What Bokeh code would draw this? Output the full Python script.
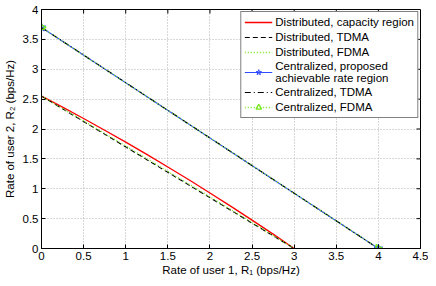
import math
from bokeh.plotting import figure
from bokeh.models import Range1d, FixedTicker, Legend, LegendItem, ColumnDataSource
from bokeh.embed import file_html
from bokeh.resources import INLINE

# ---- data ----
dist_cap_r1 = [0.0, 0.25, 0.5, 0.75, 1.0, 1.25, 1.5, 1.75, 2.0, 2.25, 2.5, 2.75, 3.0]
dist_cap_r2 = [2.55, 2.365, 2.175, 1.98, 1.78, 1.575, 1.365, 1.15, 0.93, 0.705, 0.475, 0.24, 0.0]

dist_tdma_r1 = [0.0, 3.0]
dist_tdma_r2 = [2.55, 0.0]

dist_fdma_r1 = [0.0, 0.5, 1.0, 1.5, 2.0, 2.5, 3.0]
dist_fdma_r2 = [2.55, 2.135, 1.715, 1.29, 0.865, 0.435, 0.0]

cent_prop_r1 = [0.0, 4.0]
cent_prop_r2 = [3.7, 0.0]

cent_tdma_r1 = [0.0, 4.0]
cent_tdma_r2 = [3.7, 0.0]

cent_fdma_r1 = [0.0, 4.0]
cent_fdma_r2 = [3.7, 0.0]

x_ticks = [0, 0.5, 1, 1.5, 2, 2.5, 3, 3.5, 4, 4.5]
x_tick_labels = ["0", "0.5", "1", "1.5", "2", "2.5", "3", "3.5", "4", "4.5"]
y_ticks = [0, 0.5, 1, 1.5, 2, 2.5, 3, 3.5, 4]
y_tick_labels = ["0", "0.5", "1", "1.5", "2", "2.5", "3", "3.5", "4"]

legend_labels = [
    "Distributed, capacity region",
    "Distributed, TDMA",
    "Distributed, FDMA",
    "Centralized, proposed\nachievable rate region",
    "Centralized, TDMA",
    "Centralized, FDMA",
]

FONT = "Liberation Sans"
FS = "11.5px"
GREEN = "#74e81a"
BLUE = "#2f4dff"

x_min, x_max = x_ticks[0], x_ticks[-1]
y_min, y_max = y_ticks[0], y_ticks[-1]

p = figure(width=428, height=278, output_backend="svg", toolbar_location=None,
           x_range=Range1d(x_min, x_max), y_range=Range1d(y_min, y_max),
           min_border_top=9, min_border_right=8, min_border_bottom=29, min_border_left=40)
p.background_fill_color = "white"
p.border_fill_color = "white"
p.outline_line_color = "black"
p.outline_line_width = 1

xax = p.below[0]
yax = p.left[0]
for ax, ticks, labels in ((xax, x_ticks, x_tick_labels), (yax, y_ticks, y_tick_labels)):
    ax.ticker = FixedTicker(ticks=ticks)
    ax.major_label_overrides = {t: l for t, l in zip(ticks, labels)}
    ax.major_label_text_font = FONT
    ax.major_label_text_font_size = FS
    ax.major_label_text_color = "black"
    ax.axis_label_text_font = FONT
    ax.axis_label_text_font_size = FS
    ax.axis_label_text_font_style = "normal"
    ax.axis_label_text_color = "black"
    ax.axis_line_color = "black"
    ax.major_tick_line_color = "black"
    ax.major_tick_in = 4
    ax.major_tick_out = 0
    ax.minor_tick_line_color = None

xax.axis_label = "Rate of user 1, R\u2081 (bps/Hz)"
yax.axis_label = "Rate of user 2, R\u2082 (bps/Hz)"
xax.major_label_standoff = 3
yax.major_label_standoff = 3
xax.axis_label_standoff = 1
yax.axis_label_standoff = 4

p.grid.grid_line_color = "#b0b0b0"
p.grid.grid_line_dash = "1 2"
p.grid.grid_line_width = 1

# mirrored inward tick marks on the top and right edges of the box
p.ray(x=x_ticks[1:-1], y=[y_max] * (len(x_ticks) - 2), length=4, length_units="screen",
      angle=-math.pi / 2, line_color="black", line_width=1)
p.ray(x=[x_max] * (len(y_ticks) - 2), y=y_ticks[1:-1], length=4, length_units="screen",
      angle=math.pi, line_color="black", line_width=1)

r1 = p.line(dist_cap_r1, dist_cap_r2, line_color="#ff0000", line_width=1.3)
r2 = p.line(dist_tdma_r1, dist_tdma_r2, line_color="black", line_width=1.1, line_dash="5 3")
r3 = p.line(dist_fdma_r1, dist_fdma_r2, line_color=GREEN, line_width=1.3, line_dash="1 2")

r4a = p.line(cent_prop_r1, cent_prop_r2, line_color=BLUE, line_width=1.1)
r4b = p.scatter(cent_prop_r1, cent_prop_r2, marker="star", size=9, line_color=BLUE,
                fill_color=BLUE, fill_alpha=0.35, line_width=1)
r5 = p.line(cent_tdma_r1, cent_tdma_r2, line_color="black", line_width=1.1, line_dash="6 3 1 3")
r6a = p.line(cent_fdma_r1, cent_fdma_r2, line_color=GREEN, line_width=1.3, line_dash="1 2")
tri_src = ColumnDataSource(data=dict(x=cent_fdma_r1, y=cent_fdma_r2,
                                     ang=[-math.pi / 2] * len(cent_fdma_r1)))
r6b = p.scatter("x", "y", source=tri_src, marker="triangle", size=8, angle="ang",
                line_color=GREEN, fill_color=None, line_width=1.3)

items = [
    LegendItem(label=legend_labels[0], renderers=[r1]),
    LegendItem(label=legend_labels[1], renderers=[r2]),
    LegendItem(label=legend_labels[2], renderers=[r3]),
    LegendItem(label=legend_labels[3], renderers=[r4a, r4b]),
    LegendItem(label=legend_labels[4], renderers=[r5]),
    LegendItem(label=legend_labels[5], renderers=[r6a, r6b]),
]
legend = Legend(items=items, location="top_right")
legend.margin = 2
legend.padding = 3
legend.spacing = 1
legend.glyph_width = 28
legend.glyph_height = 14
legend.label_height = 14
legend.label_standoff = 3
legend.label_text_font = FONT
legend.label_text_font_size = FS
legend.label_text_color = "black"
legend.label_text_line_height = 1.1
legend.border_line_color = "black"
legend.border_line_width = 1
legend.background_fill_color = "white"
legend.background_fill_alpha = 1.0
p.add_layout(legend, "center")

open("out.html", "w").write(file_html(p, INLINE))
